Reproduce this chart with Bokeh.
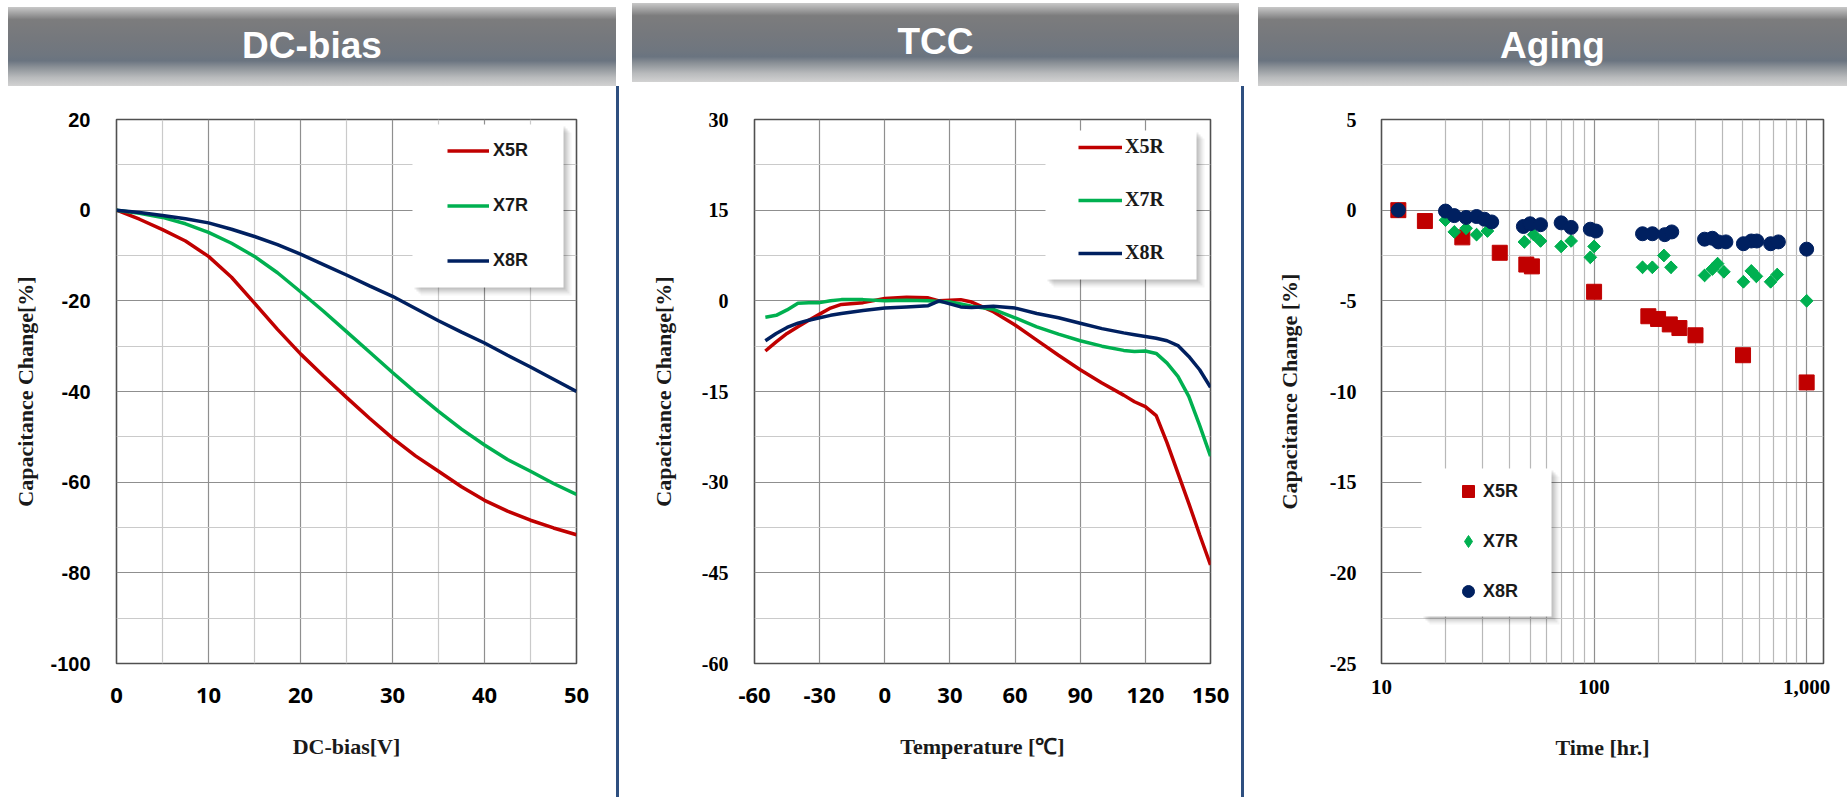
from bokeh.plotting import figure
from bokeh.layouts import row, column
from bokeh.models import Div, Legend, LegendItem, FixedTicker, Range1d, BoxAnnotation
from bokeh.embed import file_html
from bokeh.resources import INLINE

RED = "#c00000"
GREEN = "#00b050"
NAVY = "#002060"

# ---------------- DC-bias data ----------------
dc_v = [0, 2.5, 5, 7.5, 10, 12.5, 15, 17.5, 20, 22.5, 25, 27.5, 30, 32.5, 35, 37.5, 40, 42.5, 45, 47.5, 50]
dc_x5r = [0, -2.0, -4.3, -6.8, -10.2, -14.8, -20.5, -26.3, -31.7, -36.6, -41.3, -45.9, -50.3, -54.2, -57.6,
          -61.0, -64.0, -66.4, -68.4, -70.1, -71.6]
dc_x7r = [0, -0.7, -1.6, -3.0, -4.9, -7.3, -10.2, -13.8, -18.0, -22.3, -26.8, -31.3, -35.8, -40.2, -44.4,
          -48.3, -51.8, -55.0, -57.6, -60.3, -62.7]
dc_x8r = [0, -0.5, -1.2, -1.9, -2.8, -4.2, -5.8, -7.6, -9.7, -12.0, -14.3, -16.7, -19.0, -21.7, -24.4,
          -26.9, -29.3, -32.0, -34.6, -37.3, -40.0]
dc_xticks = [0, 10, 20, 30, 40, 50]
dc_xminor = [5, 15, 25, 35, 45]
dc_yticks = [20, 0, -20, -40, -60, -80, -100]
dc_yminor = [10, -10, -30, -50, -70, -90]

# ---------------- TCC data ----------------
tcc_t = [-55, -50, -45, -40, -35, -30, -25, -20, -10, 0, 10, 20, 25, 30, 35, 40, 50, 60, 70, 80, 90, 100,
         110, 115, 120, 125, 130, 135, 140, 145, 150]
tcc_x5r = [-8.3, -6.8, -5.4, -4.3, -3.2, -2.2, -1.2, -0.6, -0.3, 0.4, 0.6, 0.5, 0.0, 0.1, 0.2, -0.2, -1.8,
           -4.0, -6.5, -9.0, -11.4, -13.6, -15.6, -16.7, -17.5, -19.0, -23.5, -28.5, -33.5, -38.7, -43.7]
tcc_x7r = [-2.7, -2.4, -1.5, -0.4, -0.3, -0.3, 0.0, 0.2, 0.2, 0.0, 0.1, 0.0, -0.1, -0.2, -0.5, -0.9, -1.4,
           -2.8, -4.3, -5.5, -6.6, -7.5, -8.2, -8.4, -8.3, -8.7, -10.3, -12.5, -15.8, -20.6, -25.7]
tcc_x8r = [-6.6, -5.4, -4.4, -3.7, -3.2, -2.8, -2.4, -2.1, -1.6, -1.2, -1.0, -0.8, 0.0, -0.5, -1.0, -1.1, -0.9,
           -1.2, -2.1, -2.8, -3.7, -4.6, -5.3, -5.6, -5.9, -6.2, -6.6, -7.4, -9.2, -11.4, -14.3]
tcc_xticks = [-60, -30, 0, 30, 60, 90, 120, 150]
tcc_yticks = [30, 15, 0, -15, -30, -45, -60]
tcc_yminor = [22.5, 7.5, -7.5, -22.5, -37.5, -52.5]

# ---------------- Aging data ----------------
ag_x5r_t = [12, 16, 24, 36, 48, 51, 100, 180, 200, 227, 252, 300, 502, 1000]
ag_x5r_v = [0, -0.6, -1.5, -2.35, -3.0, -3.1, -4.5, -5.85, -6.0, -6.3, -6.5, -6.9, -8.0, -9.5]
ag_x7r_t = [12, 20, 22, 25, 28, 31.5, 47, 52, 56, 70, 78, 96, 100, 169, 188, 213, 230, 331, 360, 381, 408,
            504, 549, 580, 677, 727, 1000]
ag_x7r_v = [0, -0.55, -1.2, -1.0, -1.35, -1.15, -1.75, -1.35, -1.7, -2.0, -1.7, -2.6, -2.0, -3.15, -3.15,
            -2.5, -3.15, -3.6, -3.25, -2.95, -3.4, -3.95, -3.35, -3.65, -3.95, -3.55, -5.0]
ag_x8r_t = [12, 20, 22, 25, 28, 30.5, 33, 46.5, 50, 56, 70, 78, 96, 102, 169, 188, 215, 232, 331, 360, 384,
            417, 504, 549, 583, 677, 736, 1000]
ag_x8r_v = [0, -0.05, -0.3, -0.4, -0.35, -0.5, -0.65, -0.9, -0.75, -0.8, -0.7, -0.95, -1.05, -1.15, -1.3,
            -1.3, -1.35, -1.2, -1.6, -1.55, -1.75, -1.75, -1.85, -1.7, -1.7, -1.85, -1.75, -2.15]
ag_xticks = [10, 100, 1000]
ag_xlabels = ["10", "100", "1,000"]
ag_xminor = [20, 30, 40, 50, 60, 70, 80, 90, 200, 300, 400, 500, 600, 700, 800, 900]
ag_yticks = [5, 0, -5, -10, -15, -20, -25]
ag_yminor = [2.5, -2.5, -7.5, -12.5, -17.5, -22.5]

SERIES = ["X5R", "X7R", "X8R"]

FIG_H = 711
LW = 3.5


def base_fig(width, xr, yr, left, right, top, bottom, x_axis_type="linear"):
    p = figure(width=width, height=FIG_H, x_range=xr, y_range=yr, x_axis_type=x_axis_type,
               output_backend="svg", toolbar_location=None,
               min_border_left=left, min_border_right=right, min_border_top=top, min_border_bottom=bottom)
    p.background_fill_color = "white"
    p.border_fill_color = "white"
    p.outline_line_color = "#505050"
    p.outline_line_width = 1.6
    for ax in (p.xaxis[0], p.yaxis[0]):
        ax.axis_line_color = None
        ax.major_tick_line_color = None
        ax.minor_tick_line_color = None
        ax.major_tick_out = 0
        ax.major_tick_in = 0
        ax.minor_tick_out = 0
        ax.minor_tick_in = 0
        ax.major_label_text_color = "#000000"
        ax.axis_label_text_color = "#1a1a1a"
        ax.axis_label_text_font = "Liberation Serif"
        ax.axis_label_text_font_style = "bold"
        ax.axis_label_text_font_size = "22px"
        ax.major_label_text_font_style = "bold"
    for g in (p.xgrid[0], p.ygrid[0]):
        g.grid_line_color = "#8f8f8f"
        g.grid_line_width = 1.2
        g.minor_grid_line_color = "#cacaca"
        g.minor_grid_line_width = 1.2
    return p


def set_ticks(ax, ticks, minor, labels):
    ax.ticker = FixedTicker(ticks=ticks, minor_ticks=minor)
    ax.major_label_overrides = {t: l for t, l in zip(ticks, labels)}


def legend_box(p, left, right, top, bottom):
    for off, alpha in [(8, 0.04), (6, 0.06), (4, 0.08), (2, 0.08)]:
        p.add_layout(BoxAnnotation(left=left + off, right=right + off, top=top + off, bottom=bottom + off,
                                   left_units="canvas", right_units="canvas", top_units="canvas",
                                   bottom_units="canvas", fill_color="black", fill_alpha=alpha,
                                   line_color=None))
    p.add_layout(BoxAnnotation(left=left, right=right, top=top, bottom=bottom,
                               left_units="canvas", right_units="canvas", top_units="canvas",
                               bottom_units="canvas", fill_color="white", fill_alpha=1.0, line_color=None))


# ================= Panel 1: DC-bias =================
p1 = base_fig(616, Range1d(0, 50), Range1d(-100, 20), 116, 40, 33, 134)
set_ticks(p1.xaxis[0], dc_xticks, dc_xminor, [str(t) for t in dc_xticks])
set_ticks(p1.yaxis[0], dc_yticks, dc_yminor, [str(t) for t in dc_yticks])
p1.xaxis.major_label_text_font = "Open Sans"
p1.xaxis.major_label_text_font_size = "22px"
p1.yaxis.major_label_text_font = "Liberation Sans"
p1.yaxis.major_label_text_font_size = "20px"
p1.xaxis.axis_label = "DC-bias[V]"
p1.yaxis.axis_label = "Capacitance Change[%]"
p1.yaxis.major_label_standoff = 26
p1.yaxis.axis_label_standoff = 9
p1.xaxis.major_label_standoff = 24
p1.xaxis.axis_label_standoff = 28

r1 = [p1.line(dc_v, ys, line_color=c, line_width=LW)
      for ys, c in zip([dc_x5r, dc_x7r, dc_x8r], [RED, GREEN, NAVY])]
legend_box(p1, 412, 563, 38, 201)
lg1 = Legend(items=[LegendItem(label=s, renderers=[r]) for s, r in zip(SERIES, r1)],
             location=(331, 392), padding=0, margin=0, spacing=34, glyph_width=42, glyph_height=21,
             label_height=21, label_standoff=4, background_fill_alpha=0, border_line_color=None,
             label_text_font="Liberation Sans", label_text_font_style="bold", label_text_font_size="18px",
             label_text_color="#1a1a1a")
p1.add_layout(lg1)

# ================= Panel 2: TCC =================
p2 = base_fig(622, Range1d(-60, 150), Range1d(-60, 30), 135, 31, 33, 134)
set_ticks(p2.xaxis[0], tcc_xticks, [], [str(t) for t in tcc_xticks])
set_ticks(p2.yaxis[0], tcc_yticks, tcc_yminor, [str(t) for t in tcc_yticks])
p2.xaxis.major_label_text_font = "Open Sans"
p2.xaxis.major_label_text_font_size = "22px"
p2.yaxis.major_label_text_font = "Liberation Serif"
p2.yaxis.major_label_text_font_size = "20px"
p2.xaxis.axis_label = "Temperature [℃]"
p2.yaxis.axis_label = "Capacitance Change[%]"
p2.yaxis.major_label_standoff = 26
p2.yaxis.axis_label_standoff = 23
p2.xaxis.major_label_standoff = 24
p2.xaxis.axis_label_standoff = 28

r2 = [p2.line(tcc_t, ys, line_color=c, line_width=LW)
      for ys, c in zip([tcc_x5r, tcc_x7r, tcc_x8r], [RED, GREEN, NAVY])]
legend_box(p2, 426, 577, 44, 193)
lg2 = Legend(items=[LegendItem(label=s, renderers=[r]) for s, r in zip(SERIES, r2)],
             location=(324, 399), padding=0, margin=0, spacing=30, glyph_width=44, glyph_height=20,
             label_height=20, label_standoff=3, background_fill_alpha=0, border_line_color=None,
             label_text_font="Liberation Serif", label_text_font_style="bold", label_text_font_size="20px",
             label_text_color="#1a1a1a")
p2.add_layout(lg2)

# ================= Panel 3: Aging =================
p3 = base_fig(603, Range1d(10, 1200), Range1d(-25, 5), 137, 24, 33, 134, x_axis_type="log")
set_ticks(p3.xaxis[0], ag_xticks, ag_xminor, ag_xlabels)
set_ticks(p3.yaxis[0], ag_yticks, ag_yminor, [str(t) for t in ag_yticks])
p3.xgrid.minor_grid_line_color = "#b8b8b8"
p3.xaxis.major_label_text_font = "Liberation Serif"
p3.xaxis.major_label_text_font_size = "21px"
p3.yaxis.major_label_text_font = "Liberation Serif"
p3.yaxis.major_label_text_font_size = "20px"
p3.xaxis.axis_label = "Time [hr.]"
p3.yaxis.axis_label = "Capacitance Change [%]"
p3.yaxis.major_label_standoff = 25
p3.yaxis.axis_label_standoff = 25
p3.xaxis.major_label_standoff = 16
p3.xaxis.axis_label_standoff = 38

s_red = p3.scatter(ag_x5r_t, ag_x5r_v, marker="square", size=15, fill_color=RED, line_color=RED)
# narrow diamond underneath (fully covered by the rotated square); it supplies the legend key shape
s_green_key = p3.scatter(ag_x7r_t, ag_x7r_v, marker="diamond", size=12, fill_color=GREEN, line_color=GREEN)
s_green = p3.scatter(ag_x7r_t, ag_x7r_v, marker="square", size=9, angle=0.7853982,
                     fill_color=GREEN, line_color=GREEN)
s_navy = p3.scatter(ag_x8r_t, ag_x8r_v, marker="circle", size=14, fill_color=NAVY, line_color=NAVY)
legend_box(p3, 177, 307, 382, 530)
lg3 = Legend(items=[LegendItem(label=s, renderers=[r])
                    for s, r in zip(SERIES, [s_red, s_green_key, s_navy])],
             location=(72, 57), padding=0, margin=0, spacing=20, glyph_width=30, glyph_height=30,
             label_height=30, label_standoff=0, background_fill_alpha=0, border_line_color=None,
             label_text_font="Liberation Sans", label_text_font_style="bold", label_text_font_size="18px",
             label_text_color="#1a1a1a")
p3.add_layout(lg3)

# ================= Headers & separators =================
GRAD = ("linear-gradient(to bottom,#c8c8c8 0%,#7c7c7d 16%,#75787d 40%,#6f767f 60%,#6a7480 68%,"
        "#8a9096 76%,#b8babc 89%,#d2d2d2 100%)")


def header(label, left, top, width, height):
    return ('<div style="position:absolute;left:%dpx;top:%dpx;width:%dpx;height:%dpx;background:%s;'
            'display:flex;align-items:center;justify-content:center;color:#ffffff;'
            "font-family:'Liberation Sans',Arial,sans-serif;font-weight:bold;font-size:37px;\">%s</div>"
            % (left, top, width, height, GRAD, label))


head_html = ('<div style="position:relative;width:1847px;height:86px;">'
             + header("DC-bias", 8, 7, 608, 79)
             + header("TCC", 632, 3, 607, 79)
             + header("Aging", 1258, 7, 589, 79)
             + '</div>')
head = Div(text=head_html, width=1847, height=86, margin=(0, 0, 0, 0))

sep1 = Div(text="", width=3, height=FIG_H, margin=(0, 0, 0, 0), styles={"background-color": "#2e4f80"})
sep2 = Div(text="", width=3, height=FIG_H, margin=(0, 0, 0, 0), styles={"background-color": "#2e4f80"})

layout = column(head, row(p1, sep1, p2, sep2, p3, spacing=0), spacing=0)

open("out.html", "w").write(file_html(layout, INLINE))
